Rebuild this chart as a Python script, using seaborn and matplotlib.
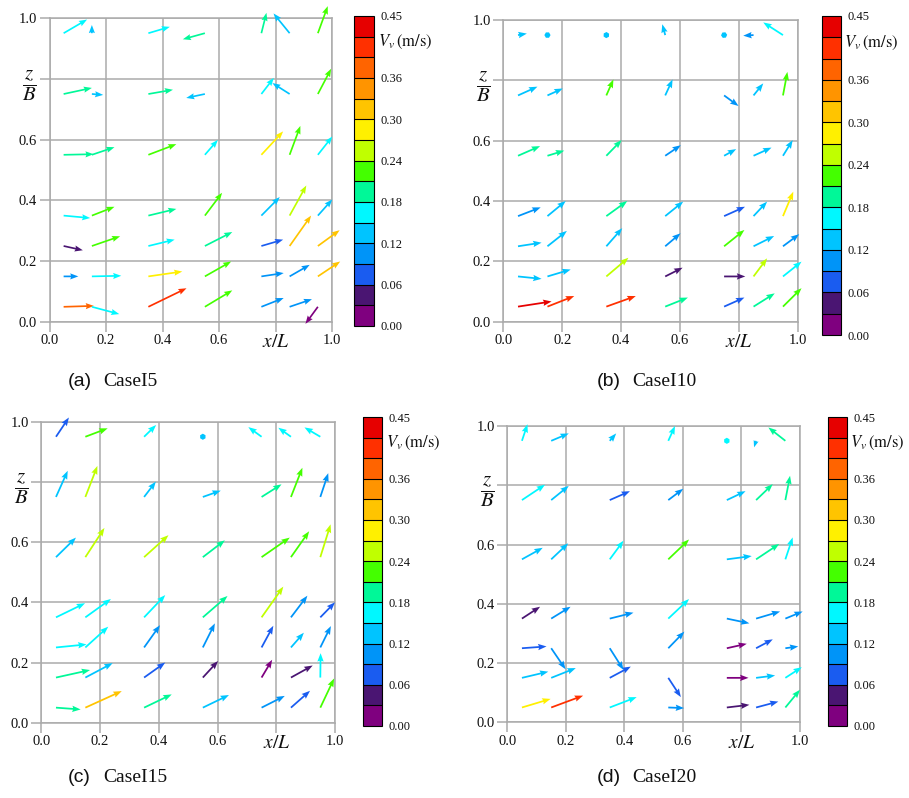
import numpy as np
import matplotlib
matplotlib.use("Agg")
import matplotlib.pyplot as plt
from matplotlib.colors import BoundaryNorm, ListedColormap
from matplotlib.cm import ScalarMappable
import seaborn as sns

# Measurement grid (x/L across, z/B upward)
x_pos = [0.05, 0.15, 0.35, 0.55, 0.75, 0.85, 0.95]
z_pos = [0.05, 0.15, 0.25, 0.35, 0.55, 0.75, 0.95]

# In-plane velocity components (rows follow z_pos, columns follow x_pos)
# and the colour variable V_v in m/s
u_I5 = [[0.107, 0.097, 0.135, 0.097, 0.079, 0.079, -0.044],
        [0.052, 0.104, 0.120, 0.093, 0.079, 0.071, 0.079],
        [0.068, 0.100, 0.093, 0.097, 0.077, 0.076, 0.077],
        [0.094, 0.080, 0.099, 0.061, 0.065, 0.059, 0.051],
        [0.106, 0.080, 0.099, 0.046, 0.077, 0.038, 0.051],
        [0.100, 0.040, 0.087, -0.066, 0.044, -0.061, 0.047],
        [0.083, 0.000, 0.076, -0.078, 0.018, -0.057, 0.035]]
w_I5 = [[0.003, -0.024, 0.061, 0.054, 0.029, 0.025, -0.056],
        [0.000, 0.002, 0.016, 0.049, 0.011, 0.038, 0.049],
        [-0.014, 0.032, 0.021, 0.046, 0.021, 0.100, 0.052],
        [-0.008, 0.029, 0.022, 0.075, 0.061, 0.099, 0.053],
        [0.002, 0.025, 0.035, 0.049, 0.077, 0.095, 0.060],
        [0.020, -0.003, 0.014, -0.013, 0.053, 0.036, 0.083],
        [0.045, 0.027, 0.021, -0.020, 0.067, 0.065, 0.089]]
v_I5 = [[0.375, 0.165, 0.405, 0.225, 0.105, 0.105, 0.015],
        [0.105, 0.165, 0.285, 0.225, 0.105, 0.105, 0.315],
        [0.045, 0.225, 0.165, 0.195, 0.075, 0.315, 0.315],
        [0.165, 0.225, 0.195, 0.225, 0.135, 0.255, 0.135],
        [0.195, 0.195, 0.225, 0.165, 0.285, 0.225, 0.165],
        [0.195, 0.135, 0.195, 0.135, 0.165, 0.135, 0.225],
        [0.165, 0.135, 0.165, 0.195, 0.195, 0.135, 0.225]]

u_I10 = [[0.114, 0.091, 0.100, 0.077, 0.069, 0.072, 0.063],
         [0.080, 0.079, 0.075, 0.059, 0.072, 0.046, 0.063],
         [0.080, 0.066, 0.054, 0.052, 0.069, 0.070, 0.055],
         [0.077, 0.062, 0.071, 0.061, 0.071, 0.046, 0.035],
         [0.075, 0.057, 0.052, 0.053, 0.041, 0.061, 0.033],
         [0.066, 0.052, 0.024, 0.025, 0.049, 0.033, 0.015],
         [0.030, 0.002, 0.008, -0.010, 0.008, -0.035, -0.067]]
w_I10 = [[0.017, 0.035, 0.035, 0.030, 0.030, 0.044, 0.061],
         [-0.008, 0.023, 0.062, 0.029, 0.000, 0.060, 0.049],
         [0.012, 0.051, 0.060, 0.043, 0.054, 0.034, 0.040],
         [0.029, 0.050, 0.050, 0.048, 0.031, 0.048, 0.081],
         [0.032, 0.017, 0.052, 0.035, 0.022, 0.027, 0.052],
         [0.029, 0.023, 0.053, 0.053, -0.035, 0.040, 0.078],
         [0.005, 0.000, 0.004, 0.036, -0.011, -0.002, 0.042]]
v_I10 = [[0.435, 0.405, 0.405, 0.195, 0.085, 0.195, 0.225],
         [0.135, 0.135, 0.255, 0.045, 0.045, 0.255, 0.165],
         [0.135, 0.135, 0.135, 0.105, 0.225, 0.135, 0.105],
         [0.115, 0.135, 0.195, 0.135, 0.085, 0.135, 0.285],
         [0.195, 0.195, 0.195, 0.105, 0.135, 0.135, 0.135],
         [0.135, 0.135, 0.225, 0.135, 0.105, 0.135, 0.225],
         [0.135, 0.140, 0.140, 0.135, 0.135, 0.105, 0.165]]

u_I15 = [[0.084, 0.124, 0.094, 0.089, 0.079, 0.065, 0.047],
         [0.116, 0.093, 0.072, 0.052, 0.036, 0.074, 0.001],
         [0.104, 0.078, 0.054, 0.041, 0.040, 0.044, 0.036],
         [0.099, 0.087, 0.072, 0.084, 0.074, 0.056, 0.050],
         [0.068, 0.065, 0.083, 0.075, 0.096, 0.062, 0.035],
         [0.040, 0.041, 0.040, 0.061, 0.068, 0.039, 0.027],
         [0.044, 0.076, 0.041, 0.000, -0.045, -0.043, -0.054]]
w_I15 = [[-0.006, 0.055, 0.044, 0.042, 0.039, 0.056, 0.097],
         [0.025, 0.048, 0.050, 0.055, 0.059, 0.040, 0.081],
         [0.010, 0.069, 0.074, 0.080, 0.072, 0.049, 0.071],
         [0.047, 0.061, 0.074, 0.071, 0.102, 0.072, 0.050],
         [0.065, 0.097, 0.073, 0.056, 0.065, 0.086, 0.109],
         [0.087, 0.103, 0.051, 0.021, 0.042, 0.097, 0.079],
         [0.064, 0.028, 0.039, -0.004, 0.032, 0.030, 0.031]]
v_I15 = [[0.195, 0.315, 0.195, 0.135, 0.105, 0.085, 0.225],
         [0.195, 0.135, 0.085, 0.045, 0.015, 0.045, 0.165],
         [0.165, 0.165, 0.095, 0.105, 0.085, 0.135, 0.105],
         [0.165, 0.165, 0.165, 0.195, 0.255, 0.105, 0.085],
         [0.135, 0.255, 0.255, 0.195, 0.225, 0.225, 0.255],
         [0.135, 0.255, 0.135, 0.135, 0.195, 0.225, 0.105],
         [0.085, 0.225, 0.165, 0.140, 0.165, 0.165, 0.165]]

u_I20 = [[0.098, 0.109, 0.092, 0.054, 0.077, 0.076, 0.050],
         [0.090, 0.084, 0.072, 0.043, 0.074, 0.065, 0.056],
         [0.084, 0.049, 0.047, 0.055, 0.068, 0.057, 0.044],
         [0.062, 0.066, 0.081, 0.071, 0.077, 0.082, 0.059],
         [0.071, 0.058, 0.047, 0.071, 0.085, 0.079, 0.025],
         [0.079, 0.060, 0.069, 0.051, 0.064, 0.057, 0.016],
         [0.019, 0.060, 0.022, 0.023, 0.000, -0.007, -0.058]]
w_I20 = [[0.029, 0.040, 0.035, -0.002, 0.009, 0.020, 0.060],
         [0.021, 0.033, 0.038, -0.065, 0.000, 0.008, 0.036],
         [0.006, -0.071, -0.073, 0.056, 0.015, 0.030, 0.006],
         [0.040, 0.040, 0.020, 0.066, -0.016, 0.024, 0.024],
         [0.039, 0.054, 0.063, 0.067, 0.011, 0.052, 0.074],
         [0.052, 0.048, 0.030, 0.038, 0.030, 0.054, 0.082],
         [0.056, 0.025, 0.025, 0.050, -0.004, -0.022, 0.045]]
v_I20 = [[0.285, 0.405, 0.165, 0.105, 0.045, 0.085, 0.195],
         [0.140, 0.135, 0.085, 0.085, 0.015, 0.140, 0.165],
         [0.085, 0.105, 0.105, 0.095, 0.015, 0.085, 0.105],
         [0.045, 0.105, 0.105, 0.165, 0.100, 0.105, 0.105],
         [0.140, 0.135, 0.155, 0.225, 0.140, 0.195, 0.165],
         [0.165, 0.135, 0.085, 0.105, 0.140, 0.195, 0.195],
         [0.155, 0.135, 0.140, 0.155, 0.155, 0.135, 0.195]]

# Colour levels of V_v
level_bounds = [0.00, 0.03, 0.06, 0.09, 0.12, 0.15, 0.18, 0.21, 0.24,
                0.27, 0.30, 0.33, 0.36, 0.39, 0.42, 0.45]
level_colors = ["#7f007f", "#4a1572", "#1a5cf0", "#0094f8", "#00c4ff",
                "#00f8ff", "#00f898", "#44ff00", "#c0ff00", "#fff000",
                "#ffc400", "#ff9400", "#ff6400", "#ff3000", "#e60000"]
cbar_ticks = [0.00, 0.06, 0.12, 0.18, 0.24, 0.30, 0.36, 0.45]

axis_ticks = [0.0, 0.2, 0.4, 0.6, 0.8, 1.0]
x_ticklabels = ["0.0", "0.2", "0.4", "0.6", r"$x/L$", "1.0"]
z_ticklabels = ["0.0", "0.2", "0.4", "0.6", r"$\dfrac{z}{B}$", "1.0"]

sns.set_theme(style="white")
plt.rcParams["font.family"] = ["Liberation Serif", "DejaVu Serif"]
plt.rcParams["mathtext.fontset"] = "stix"

cmap = ListedColormap(sns.color_palette(level_colors))
norm = BoundaryNorm(level_bounds, cmap.N)

W, H = 909, 798
fig = plt.figure(figsize=(W / 100, H / 100), dpi=100)
fig.patch.set_facecolor("white")


def box(left, top, right, bottom):
    return [left / W, 1 - bottom / H, (right - left) / W, (bottom - top) / H]


panels = [
    ("(a)", "CaseI5", u_I5, w_I5, v_I5,
     (49.5, 18, 332, 322), (354.3, 16, 373.7, 326), (68, 381)),
    ("(b)", "CaseI10", u_I10, w_I10, v_I10,
     (503.3, 20, 797.7, 321.7), (822, 16, 840.7, 335), (597, 381)),
    ("(c)", "CaseI15", u_I15, w_I15, v_I15,
     (41.3, 421.7, 335, 722.7), (362.7, 417, 381.7, 726), (68, 778)),
    ("(d)", "CaseI20", u_I20, w_I20, v_I20,
     (507.3, 426, 800, 722.3), (828, 417, 846.7, 726), (597, 778)),
]

grid_color = "#ababab"
X, Z = np.meshgrid(x_pos, z_pos)

for letter, case, u, w, v, axb, cbb, cap in panels:
    ax = fig.add_axes(box(*axb))
    ax.set_facecolor("white")
    ax.quiver(X, Z, np.array(u), np.array(w), np.array(v),
              cmap=cmap, norm=norm, angles="xy", scale_units="xy", scale=1,
              pivot="tail", width=0.006, headwidth=3.6, headlength=4.8,
              headaxislength=4.3, minlength=3.5, minshaft=1,
              zorder=3, clip_on=False)
    ax.set_xlim(0, 1)
    ax.set_ylim(0, 1)
    ax.set_xticks(axis_ticks)
    ax.set_yticks(axis_ticks)
    ax.set_xticklabels(x_ticklabels)
    ax.set_yticklabels(z_ticklabels)
    ax.grid(True, color=grid_color, linewidth=1.1)
    ax.set_axisbelow(True)
    for s in ax.spines.values():
        s.set_color(grid_color)
        s.set_linewidth(1.1)
    ax.tick_params(bottom=True, left=True, length=7, width=1.1,
                   color=grid_color, pad=2, labelsize=10.5, labelcolor="#111111")
    ax.get_xticklabels()[4].set_fontsize(14)
    ax.get_yticklabels()[4].set_fontsize(15)

    # Discrete colour scale with black separators between levels
    cax = fig.add_axes(box(*cbb))
    cb = fig.colorbar(ScalarMappable(norm=norm, cmap=cmap), cax=cax,
                      ticks=cbar_ticks)
    cb.minorticks_off()
    cb.ax.set_yticklabels([f"{t:.2f}" for t in cbar_ticks])
    cb.ax.tick_params(which="both", length=0, labelsize=9, pad=5,
                      labelcolor="#111111", right=True, left=False)
    cb.outline.set_edgecolor("black")
    cb.outline.set_linewidth(0.8)
    for b in level_bounds[1:-1]:
        cax.axhline(b, color="black", linewidth=0.8)
    cax.text(1.2, 0.412, r"$V_v\,(\mathrm{m/s})$", transform=cax.get_yaxis_transform(),
             ha="left", va="center", fontsize=12, color="#111111")

    fig.text(cap[0] / W, 1 - cap[1] / H, letter, family=["Liberation Sans", "DejaVu Sans"],
             fontsize=14, ha="left", va="center", color="#111111")
    fig.text((cap[0] + 35) / W, 1 - cap[1] / H, case, fontsize=14,
             ha="left", va="center", color="#111111")

fig.savefig("out.png", dpi=100, facecolor="white")
